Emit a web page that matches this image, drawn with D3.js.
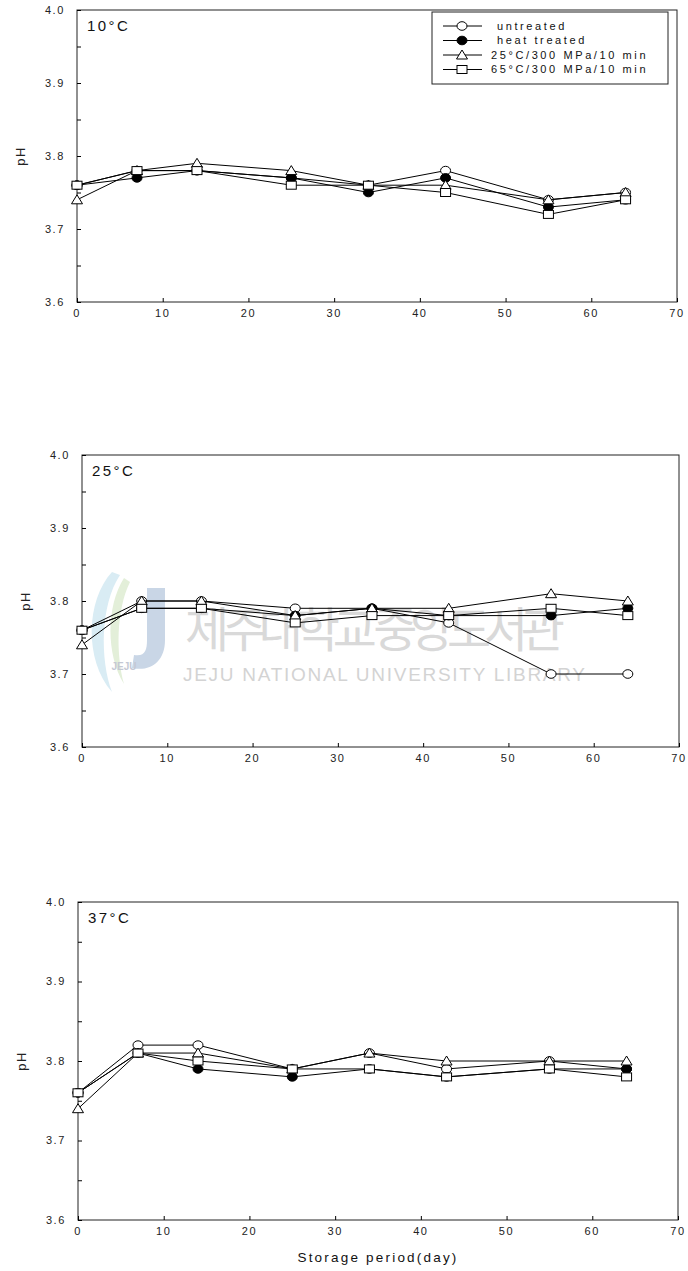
<!DOCTYPE html>
<html lang="en">
<head>
<meta charset="UTF-8">
<title>pH during storage</title>
<style>
  body { margin: 0; background: #fff; }
  svg { display: block; font-family: "Liberation Sans", Arial, sans-serif; }
  .tick-label { font-size: 11px; letter-spacing: 1.6px; fill: #222; }
  .legend-text { font-size: 11px; letter-spacing: 2.6px; fill: #111; }
</style>
</head>
<body>
<svg id="chart" width="688" height="1271"></svg>
<script src="https://d3js.org/d3.v7.min.js"></script>
<script>
// storage days, same for every panel
const days = [0, 7, 14, 25, 34, 43, 55, 64];

const seriesNames = ["untreated", "heat treated", "25°C/300 MPa/10 min", "65°C/300 MPa/10 min"];
const markers = ["circle-open", "circle-filled", "triangle", "square"];

// 10°C
const ph10Untreated = [3.76, 3.78, 3.78, 3.77, 3.76, 3.78, 3.74, 3.75];
const ph10Heat      = [3.76, 3.77, 3.78, 3.77, 3.75, 3.77, 3.73, 3.74];
const ph10Hhp25     = [3.74, 3.78, 3.79, 3.78, 3.76, 3.76, 3.74, 3.75];
const ph10Hhp65     = [3.76, 3.78, 3.78, 3.76, 3.76, 3.75, 3.72, 3.74];

// 25°C
const ph25Untreated = [3.76, 3.80, 3.80, 3.79, 3.79, 3.77, 3.70, 3.70];
const ph25Heat      = [3.76, 3.79, 3.79, 3.78, 3.79, 3.78, 3.78, 3.79];
const ph25Hhp25     = [3.74, 3.80, 3.80, 3.78, 3.79, 3.79, 3.81, 3.80];
const ph25Hhp65     = [3.76, 3.79, 3.79, 3.77, 3.78, 3.78, 3.79, 3.78];

// 37°C
const ph37Untreated = [3.76, 3.82, 3.82, 3.79, 3.81, 3.79, 3.80, 3.79];
const ph37Heat      = [3.76, 3.81, 3.79, 3.78, 3.79, 3.78, 3.79, 3.79];
const ph37Hhp25     = [3.74, 3.81, 3.81, 3.79, 3.81, 3.80, 3.80, 3.80];
const ph37Hhp65     = [3.76, 3.81, 3.80, 3.79, 3.79, 3.78, 3.79, 3.78];

const panelLabels = ["10°C", "25°C", "37°C"];
const panelSeries = [
  [ph10Untreated, ph10Heat, ph10Hhp25, ph10Hhp65],
  [ph25Untreated, ph25Heat, ph25Hhp25, ph25Hhp65],
  [ph37Untreated, ph37Heat, ph37Hhp25, ph37Hhp65]
];

const xTicks = [0, 10, 20, 30, 40, 50, 60, 70];
const yTicks = [3.6, 3.7, 3.8, 3.9, 4.0];
const yMinorTicks = [3.65, 3.75, 3.85, 3.95];

// frame of each panel in page pixels (scanned figures differ a little)
const frames = [
  { left: 77, right: 677, top: 10, bottom: 302 },
  { left: 82, right: 679, top: 455, bottom: 747 },
  { left: 78, right: 678, top: 902, bottom: 1220 }
];

const svg = d3.select("#chart");

// faint library watermark sitting behind the middle panel
function drawWatermark() {
  const g = svg.append("g").attr("pointer-events", "none");
  g.append("path")
    .attr("d", "M112,572 C86,600 84,660 112,692 C100,660 100,605 120,575 Z")
    .attr("fill", "#d9ecf4");
  g.append("path")
    .attr("d", "M124,578 C106,606 106,655 124,684 C116,655 116,610 130,582 Z")
    .attr("fill", "#e3efd9");
  g.append("path")
    .attr("d", "M147,588 L165,588 L165,640 C165,662 150,672 132,668 L134,655 C145,657 147,650 147,640 Z")
    .attr("fill", "#c9d6e6");
  g.append("text").attr("x", 124).attr("y", 670).attr("text-anchor", "middle")
    .attr("font-size", 10).attr("font-weight", "bold").attr("fill", "#c4c8d4").text("JEJU");
  g.append("text").attr("x", 185).attr("y", 647)
    .attr("font-family", "'Noto Sans CJK KR', sans-serif")
    .attr("font-size", 48).attr("fill", "#d9d9d9")
    .attr("textLength", 380).attr("lengthAdjust", "spacing")
    .text("제주대학교 중앙도서관");
  g.append("text").attr("x", 183).attr("y", 681)
    .attr("font-family", "'Liberation Sans', Arial, sans-serif")
    .attr("font-size", 19).attr("fill", "#d3d3d3")
    .attr("textLength", 402).attr("lengthAdjust", "spacing")
    .text("JEJU NATIONAL UNIVERSITY  LIBRARY");
}

function drawMarker(sel, type) {
  if (type === "circle-open" || type === "circle-filled") {
    sel.append("ellipse").attr("rx", 5).attr("ry", 4.3)
      .attr("fill", type === "circle-filled" ? "#000" : "#fff")
      .attr("stroke", "#000").attr("stroke-width", 1);
  } else if (type === "triangle") {
    sel.append("path").attr("d", "M0,-5 L5.5,4 L-5.5,4 Z")
      .attr("fill", "#fff").attr("stroke", "#000").attr("stroke-width", 1);
  } else {
    sel.append("rect").attr("x", -5).attr("y", -4).attr("width", 10).attr("height", 8)
      .attr("fill", "#fff").attr("stroke", "#000").attr("stroke-width", 1);
  }
}

drawWatermark();

frames.forEach((f, i) => {
  const x = d3.scaleLinear().domain([0, 70]).range([f.left, f.right]);
  const y = d3.scaleLinear().domain([3.6, 4.0]).range([f.bottom, f.top]);
  const g = svg.append("g");

  // frame
  g.append("rect")
    .attr("x", f.left).attr("y", f.top)
    .attr("width", f.right - f.left).attr("height", f.bottom - f.top)
    .attr("fill", "none").attr("stroke", "#222").attr("stroke-width", 1);

  // left axis with inward ticks
  const yAxis = d3.axisRight(y).tickValues(yTicks).tickSize(4).tickFormat("");
  g.append("g").attr("transform", `translate(${f.left},0)`).call(yAxis)
    .call(a => a.select(".domain").remove());
  g.append("g").attr("transform", `translate(${f.left},0)`)
    .call(d3.axisRight(y).tickValues(yMinorTicks).tickSize(4).tickFormat(""))
    .call(a => a.select(".domain").remove());
  g.selectAll(".y-label").data(yTicks).join("text")
    .attr("class", "tick-label")
    .attr("x", f.left - 12).attr("y", d => y(d)).attr("dy", "0.35em")
    .attr("text-anchor", "end")
    .text(d3.format(".1f"));

  // bottom axis with inward ticks
  g.append("g").attr("transform", `translate(0,${f.bottom})`)
    .call(d3.axisTop(x).tickValues(xTicks).tickSize(4).tickFormat(""))
    .call(a => a.select(".domain").remove());
  g.selectAll(".x-label").data(xTicks).join("text")
    .attr("class", "tick-label")
    .attr("x", d => x(d)).attr("y", f.bottom + 15)
    .attr("text-anchor", "middle")
    .text(d => d);

  g.append("text")
    .attr("x", f.left - 57).attr("y", (f.top + f.bottom) / 2)
    .attr("transform", `rotate(-90,${f.left - 57},${(f.top + f.bottom) / 2})`)
    .attr("text-anchor", "middle").attr("dy", "0.35em")
    .attr("font-size", 13).attr("letter-spacing", "1.5px").attr("fill", "#222")
    .text("pH");

  g.append("text")
    .attr("x", f.left + 10).attr("y", f.top + 21)
    .attr("font-size", 15).attr("letter-spacing", "2.4px").attr("fill", "#111")
    .text(panelLabels[i]);

  const line = d3.line().x((d, j) => x(days[j])).y(d => y(d));
  panelSeries[i].forEach((vals, s) => {
    g.append("path").datum(vals)
      .attr("d", line).attr("fill", "none")
      .attr("stroke", "#000").attr("stroke-width", 1);
    vals.forEach((v, j) => {
      const m = g.append("g").attr("transform", `translate(${x(days[j])},${y(v)})`);
      drawMarker(m, markers[s]);
    });
  });
});

// legend in the first panel
const legend = svg.append("g");
legend.append("rect")
  .attr("x", 432).attr("y", 12).attr("width", 236).attr("height", 72)
  .attr("fill", "#fff").attr("stroke", "#222").attr("stroke-width", 1);
seriesNames.forEach((name, s) => {
  const ly = 26 + s * 14.5;
  legend.append("line").attr("x1", 443).attr("x2", 482).attr("y1", ly).attr("y2", ly)
    .attr("stroke", "#000").attr("stroke-width", 1);
  drawMarker(legend.append("g").attr("transform", `translate(462,${ly})`), markers[s]);
  legend.append("text").attr("class", "legend-text")
    .attr("x", s < 2 ? 497 : 491).attr("y", ly).attr("dy", "0.35em")
    .text(name);
});

svg.append("text")
  .attr("x", 378).attr("y", 1262)
  .attr("text-anchor", "middle")
  .attr("font-size", 13.5).attr("letter-spacing", "2.2px").attr("fill", "#111")
  .text("Storage period(day)");
</script>
</body>
</html>
